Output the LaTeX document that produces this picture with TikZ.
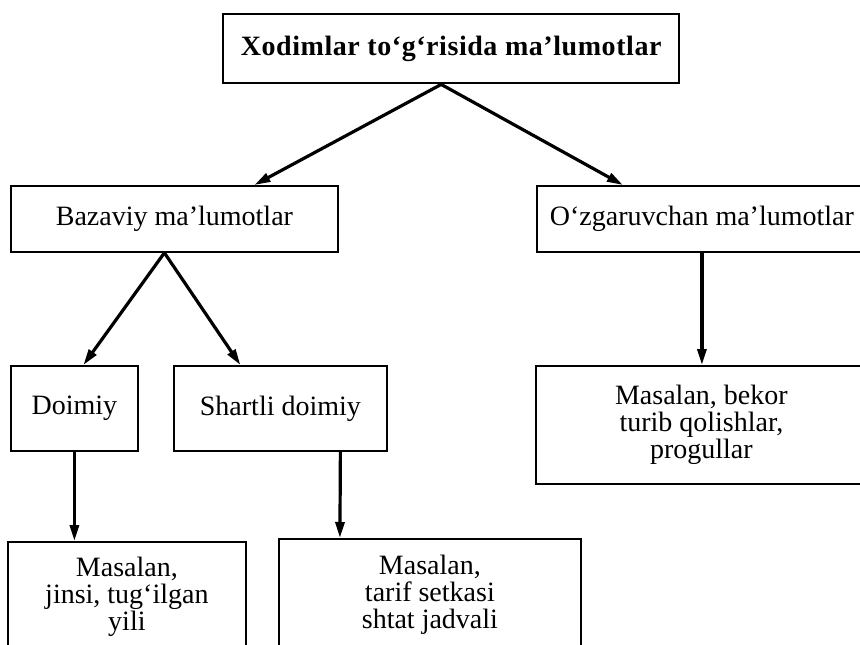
\documentclass[tikz,border=0pt]{standalone}
\usepackage{fontspec}
\setmainfont{Liberation Serif}
\usetikzlibrary{arrows.meta}

\tikzset{
    box/.style={draw, line width=1.8pt, anchor=north west, inner sep=0pt, align=center,
        font=\fontsize{28}{27}\selectfont},
    headbox/.style={box, line width=2.4pt,
        font=\bfseries\fontsize{28}{28}\selectfont\addfontfeature{LetterSpace=2}},
    arr/.style={-{Triangle[length=16pt,width=9pt]}, line width=3.2pt}
}

\begin{document}
\begin{tikzpicture}[x=1pt,y=-1pt]
    \useasboundingbox (0,0) rectangle (860,645);

    % Top
    \node[headbox, minimum width=456pt, minimum height=69pt] (xodim) at (222,13) {Xodimlar to‘g‘risida ma’lumotlar};

    % Second row
    \node[box, minimum width=327pt, minimum height=66pt] (bazaviy) at (10,185) {Bazaviy ma’lumotlar};
    \node[box, minimum width=330pt, minimum height=66pt] (ozgar) at (536,185) {O‘zgaruvchan ma’lumotlar};

    % Third row
    \node[box, minimum width=127pt, minimum height=85pt] (doimiy) at (10,365) {Doimiy};
    \node[box, minimum width=213pt, minimum height=85pt] (shartli) at (173,365) {Shartli doimiy};
    \node[box, minimum width=331pt, minimum height=118pt] (bekor) at (535,365) {Masalan, bekor\\turib qolishlar,\\progullar};

    % Bottom
    \node[box, minimum width=238pt, minimum height=109pt] (jinsi) at (7,541) {Masalan,\\jinsi, tug‘ilgan\\yili};
    \node[box, minimum width=302pt, minimum height=112pt] (tarif) at (278,538) {Masalan,\\tarif setkasi\\shtat jadvali};

    % Arrows
    \draw[arr] ([xshift=-10pt]xodim.south) -- ([xshift=80pt]bazaviy.north);
    \draw[arr] ([xshift=-10pt]xodim.south) -- ([xshift=-79pt]ozgar.north);
    \draw[arr] ([xshift=-10pt]bazaviy.south) -- ([xshift=9pt]doimiy.north);
    \draw[arr] ([xshift=-10pt]bazaviy.south) -- ([xshift=-40pt]shartli.north);
    \draw[arr] (ozgar.south) -- (ozgar.south |- bekor.north);
    \draw[arr] (doimiy.south) -- (doimiy.south |- jinsi.north);
    \draw[arr] ([xshift=60pt]shartli.south) -- ([xshift=-90pt]tarif.north);
\end{tikzpicture}
\end{document}
